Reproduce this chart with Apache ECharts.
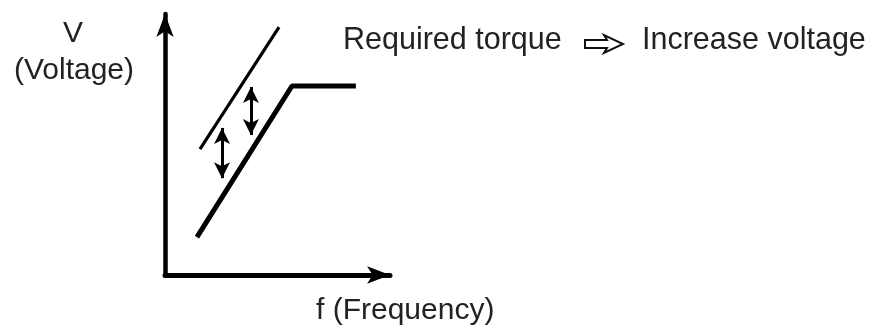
<!DOCTYPE html>
<html>
<head>
<meta charset="utf-8">
<script src="https://cdn.jsdelivr.net/npm/echarts@6/dist/echarts.min.js"></script>
<style>html,body{margin:0;padding:0;background:#fff}#c{width:878px;height:330px}</style>
</head>
<body>
<div id="c"></div>
<script>
// Schematic V/f curve (arbitrary units 0..100)
var baseCurveX = [14.8, 58.8, 88.4];
var baseCurveY = [15.1, 75.3, 75.3];
var boostedLineX = [16.2, 52.8];
var boostedLineY = [50.2, 98.8];
// double arrows: x, yBottom, yTop
var arrowX = [26.4, 39.8];
var arrowYBottom = [38.6, 55.8];
var arrowYTop = [58.6, 74.9];

var yLabelLines = ['V', '(Voltage)'];
var xLabel = 'f (Frequency)';
var noteLeft = 'Required torque';
var noteRight = 'Increase voltage';

function pairs(xs, ys) { return xs.map(function (x, i) { return [x, ys[i]]; }); }

var chart = echarts.init(document.getElementById('c'), null, { renderer: 'canvas' });
var font = '"Liberation Sans", Arial, sans-serif';
var textColor = '#222';

var markData = arrowX.map(function (x, i) {
  return [{ coord: [x, arrowYBottom[i]] }, { coord: [x, arrowYTop[i]] }];
});

chart.setOption({
  animation: false,
  backgroundColor: '#fff',
  grid: { left: 165, right: 488, top: 14, bottom: 55, containLabel: false },
  xAxis: {
    type: 'value', min: 0, max: 104.2,
    axisLine: { show: true, onZero: false, symbol: ['none', 'arrow'], symbolSize: [13, 23], lineStyle: { color: '#000', width: 5 } },
    axisTick: { show: false }, axisLabel: { show: false }, splitLine: { show: false }
  },
  yAxis: {
    type: 'value', min: 0, max: 104,
    axisLine: { show: true, onZero: false, symbol: ['none', 'arrow'], symbolSize: [13, 23], lineStyle: { color: '#000', width: 4.5 } },
    axisTick: { show: false }, axisLabel: { show: false }, splitLine: { show: false }
  },
  series: [
    {
      type: 'line', data: pairs(baseCurveX, baseCurveY), showSymbol: false,
      lineStyle: { color: '#000', width: 5 }, silent: true
    },
    {
      type: 'line', data: pairs(boostedLineX, boostedLineY), showSymbol: false,
      lineStyle: { color: '#000', width: 3.2 }, silent: true,
      markLine: {
        silent: true, symbol: ['arrow', 'arrow'], symbolSize: [12, 16],
        label: { show: false },
        lineStyle: { color: '#000', width: 3, type: 'solid' },
        data: markData
      }
    }
  ],
  graphic: [
    { type: 'text', x: 73, y: 34, style: { text: yLabelLines[0], font: '30px ' + font, fill: textColor, textAlign: 'center', textVerticalAlign: 'middle' } },
    { type: 'text', x: 74, y: 71, style: { text: yLabelLines[1], font: '30px ' + font, fill: textColor, textAlign: 'center', textVerticalAlign: 'middle' } },
    { type: 'text', x: 316, y: 311, style: { text: xLabel, font: '30px ' + font, fill: textColor, textAlign: 'left', textVerticalAlign: 'middle' } },
    { type: 'text', x: 343, y: 41, style: { text: noteLeft, font: '30.5px ' + font, fill: textColor, textAlign: 'left', textVerticalAlign: 'middle' } },
    { type: 'text', x: 642, y: 41, style: { text: noteRight, font: '30.5px ' + font, fill: textColor, textAlign: 'left', textVerticalAlign: 'middle' } },
    { type: 'polygon', shape: { points: [[585, 40], [607, 40], [604, 35], [623, 44], [604, 53], [607, 48], [585, 48]] },
      style: { fill: '#fff', stroke: '#111', lineWidth: 2 } }
  ]
});
</script>
</body>
</html>
